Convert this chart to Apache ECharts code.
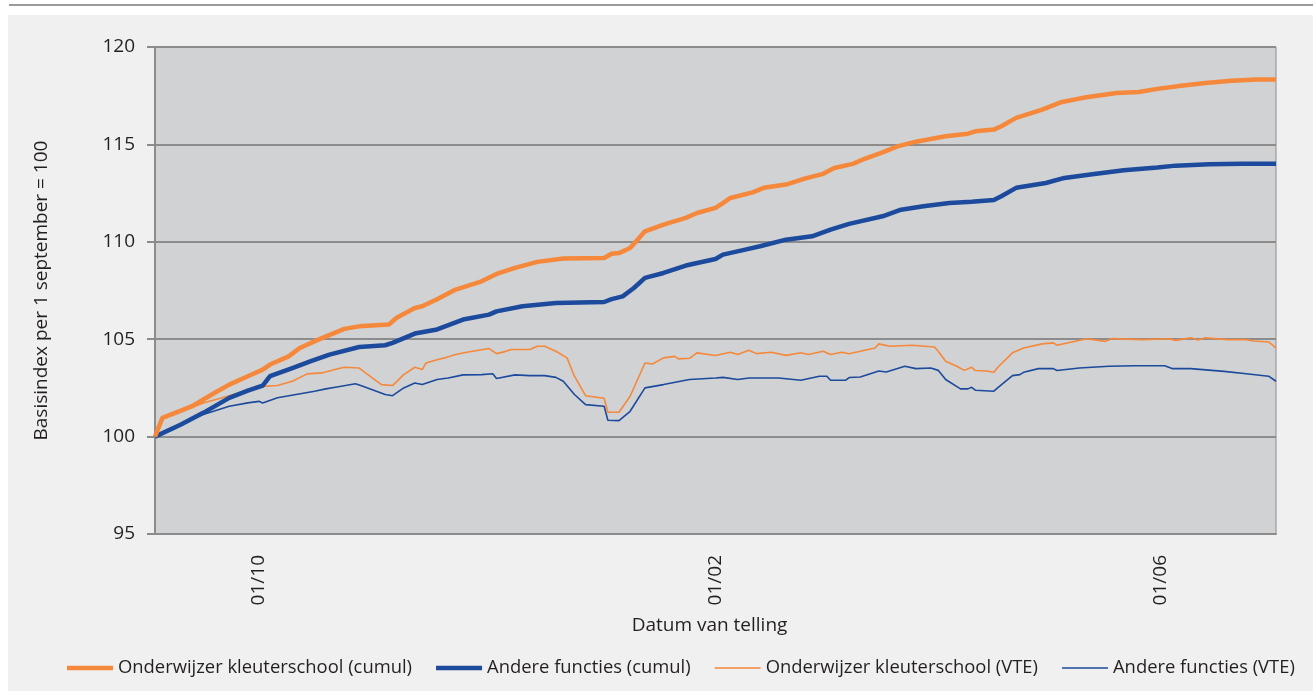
<!DOCTYPE html>
<html>
<head>
<meta charset="utf-8">
<script src="https://cdn.jsdelivr.net/npm/echarts@6/dist/echarts.min.js"></script>
<style>
  html, body { margin: 0; padding: 0; background: #ffffff; }
  #chart { width: 1313px; height: 691px; }
</style>
</head>
<body>
<div id="chart"></div>
<script>
// x = dag sinds 1 september (0 = 01/09)
var tickDays = [30, 153, 273];
var tickLabels = ['01/10', '01/02', '01/06'];

var seriesNames = [
  'Onderwijzer kleuterschool (cumul)',
  'Andere functies (cumul)',
  'Onderwijzer kleuterschool (VTE)',
  'Andere functies (VTE)'
];

var kleuterCumul = [
  [2,100],[4,100.96],[9,101.33],[12,101.56],[18,102.24],[22,102.67],[27,103.10],[31,103.44],
  [33,103.70],[38,104.12],[41,104.55],[46,104.98],[53,105.53],[57,105.66],[65,105.75],[67,106.09],
  [72,106.60],[74,106.69],[78,107.05],[83,107.55],[90,107.97],[94,108.35],[99,108.66],[105,108.97],
  [112,109.14],[123,109.17],[125,109.39],[127,109.42],[130,109.68],[132,110.11],[134,110.54],[139,110.88],
  [145,111.23],[148,111.48],[153,111.74],[155,111.99],[157,112.25],[163,112.54],[166,112.77],[172,112.94],
  [177,113.24],[182,113.49],[185,113.79],[190,114.00],[193,114.25],[198,114.59],[202,114.90],[207,115.14],
  [215,115.42],[221,115.55],[223,115.67],[228,115.76],[230,115.93],[234,116.36],[241,116.79],[246,117.16],
  [252,117.39],[261,117.64],[267,117.69],[272,117.85],[279,118.02],[285,118.15],[292,118.27],[299,118.33],
  [304,118.33]
];

var andereCumul = [
  [2,100],[9,100.62],[15,101.22],[22,101.99],[27,102.36],[31,102.62],[33,103.10],[39,103.52],
  [44,103.87],[49,104.21],[57,104.60],[64,104.69],[66,104.81],[72,105.29],[78,105.50],[85,106.01],
  [92,106.26],[94,106.43],[101,106.69],[110,106.86],[123,106.91],[125,107.06],[128,107.20],[131,107.63],
  [134,108.15],[139,108.40],[145,108.78],[153,109.12],[155,109.34],[161,109.60],[165,109.77],[172,110.11],
  [179,110.28],[184,110.63],[189,110.92],[198,111.31],[203,111.65],[209,111.82],[216,111.99],[222,112.06],
  [228,112.15],[230,112.34],[234,112.77],[242,113.02],[247,113.28],[254,113.45],[263,113.67],[272,113.82],
  [277,113.91],[286,113.98],[295,114.01],[304,114.01]
];

var kleuterVte = [
  [2,100],[4,100.96],[9,101.33],[12,101.50],[15,101.73],[22,102.10],[27,102.36],[31,102.58],
  [35,102.62],[39,102.84],[43,103.22],[47,103.27],[51,103.47],[53,103.56],[57,103.52],[59,103.23],
  [63,102.67],[66,102.62],[69,103.18],[72,103.56],[74,103.44],[75,103.78],[78,103.95],[80,104.04],
  [83,104.21],[86,104.33],[92,104.52],[94,104.26],[96,104.35],[98,104.47],[103,104.47],[105,104.64],
  [107,104.64],[110,104.38],[113,104.04],[115,103.10],[118,102.10],[123,101.97],[124,101.25],[127,101.25],
  [130,102.07],[134,103.78],[136,103.73],[139,104.04],[142,104.12],[143,103.99],[146,104.02],[148,104.30],
  [153,104.16],[157,104.33],[159,104.21],[162,104.43],[164,104.26],[168,104.33],[172,104.17],[176,104.30],
  [178,104.21],[182,104.38],[184,104.21],[187,104.33],[189,104.25],[192,104.38],[196,104.55],[197,104.76],
  [200,104.64],[206,104.69],[212,104.60],[213,104.38],[215,103.87],[218,103.61],[220,103.40],[222,103.56],
  [223,103.39],[226,103.37],[228,103.30],[229,103.55],[233,104.30],[236,104.55],[241,104.76],[244,104.81],
  [245,104.69],[249,104.86],[253,105.02],[258,104.89],[260,105.03],[268,104.98],[275,105.02],[277,104.94],
  [281,105.07],[283,104.96],[285,105.07],[291,104.98],[296,104.98],[298,104.91],[302,104.86],[304,104.55]
];

var andereVte = [
  [2,100],[9,100.62],[12,100.90],[15,101.13],[22,101.56],[27,101.73],[30,101.81],[31,101.73],
  [35,101.99],[40,102.16],[45,102.33],[48,102.45],[51,102.55],[56,102.71],[58,102.58],[64,102.16],
  [66,102.10],[69,102.50],[72,102.75],[74,102.67],[78,102.93],[81,103.01],[85,103.17],[90,103.18],
  [93,103.23],[94,102.98],[99,103.17],[103,103.13],[107,103.13],[110,103.04],[112,102.84],[115,102.16],
  [118,101.64],[123,101.56],[124,100.84],[127,100.82],[130,101.30],[134,102.50],[139,102.67],[146,102.93],
  [153,103.01],[155,103.04],[159,102.93],[162,103.01],[170,103.01],[176,102.89],[181,103.10],[183,103.10],
  [184,102.89],[188,102.89],[189,103.03],[192,103.06],[197,103.37],[199,103.32],[204,103.61],[207,103.49],
  [211,103.52],[213,103.40],[215,102.93],[219,102.45],[221,102.45],[222,102.53],[223,102.38],[228,102.33],
  [229,102.50],[233,103.13],[235,103.18],[236,103.30],[240,103.49],[244,103.49],[245,103.39],[251,103.52],
  [259,103.61],[266,103.64],[274,103.64],[276,103.49],[281,103.49],[290,103.35],[296,103.23],[302,103.10],
  [304,102.84]
];

var orange = '#f5883a';
var blue = '#1c4a9c';
var fontName = 'Open Sans';

// legend icons: a bar inside a 46x12 box (the M points fix the box)
var thickIcon = 'path://M0,0M46,12M0,3.8L46,3.8L46,8.2L0,8.2Z';
var thinIcon = 'path://M0,0M46,12M0,5.3L46,5.3L46,6.7L0,6.7Z';

var chart = echarts.init(document.getElementById('chart'));

var option = {
  backgroundColor: '#ffffff',
  animation: false,
  textStyle: { fontFamily: fontName, color: '#231f20' },
  graphic: [
    { type: 'line', silent: true, z: -10,
      shape: { x1: 9, y1: 5, x2: 1313, y2: 5 },
      style: { stroke: '#9a9a9a', lineWidth: 2 } },
    { type: 'rect', silent: true, z: -10,
      shape: { x: 8, y: 15, width: 1305, height: 676 },
      style: { fill: '#f0f0f0' } }
  ],
  grid: {
    left: 155, top: 47, width: 1121, height: 487,
    show: true, backgroundColor: '#d1d2d4',
    borderColor: '#8c8c8c', borderWidth: 1
  },
  legend: {
    top: 654, left: 62,
    itemWidth: 46, itemHeight: 12, itemGap: 24,
    itemStyle: { borderWidth: 0 },
    textStyle: { fontSize: 18.4, color: '#231f20', fontFamily: fontName },
    data: [
      { name: seriesNames[0], icon: thickIcon },
      { name: seriesNames[1], icon: thickIcon },
      { name: seriesNames[2], icon: thinIcon },
      { name: seriesNames[3], icon: thinIcon }
    ]
  },
  xAxis: {
    type: 'value', min: 2, max: 304,
    name: 'Datum van telling', nameLocation: 'middle', nameGap: 82,
    nameTextStyle: { fontSize: 19, color: '#231f20', padding: [0, 12, 0, 0] },
    axisLine: { show: true, lineStyle: { color: '#8c8c8c', width: 2 } },
    axisTick: { show: false },
    splitLine: { show: false },
    axisLabel: {
      customValues: tickDays,
      rotate: 90, margin: 21, fontSize: 19, color: '#231f20',
      formatter: function (v) {
        var i = tickDays.indexOf(Math.round(v));
        return i >= 0 ? tickLabels[i] : '';
      }
    }
  },
  yAxis: {
    type: 'value', min: 95, max: 120, interval: 5,
    name: 'Basisindex per 1 september = 100', nameLocation: 'middle', nameGap: 104,
    nameTextStyle: { fontSize: 19, color: '#231f20' },
    axisLine: { show: true, lineStyle: { color: '#8c8c8c', width: 2 } },
    axisTick: { show: true, length: 8, lineStyle: { color: '#8c8c8c', width: 2 } },
    splitLine: { show: true, lineStyle: { color: '#8c8c8c', width: 2 } },
    axisLabel: { fontSize: 19, margin: 20, color: '#231f20' }
  },
  series: [
    { name: seriesNames[0], type: 'line', data: kleuterCumul, symbol: 'none',
      lineStyle: { color: orange, width: 4.5 }, itemStyle: { color: orange }, z: 4 },
    { name: seriesNames[1], type: 'line', data: andereCumul, symbol: 'none',
      lineStyle: { color: blue, width: 4.5 }, itemStyle: { color: blue }, z: 3 },
    { name: seriesNames[2], type: 'line', data: kleuterVte, symbol: 'none',
      lineStyle: { color: orange, width: 1.6 }, itemStyle: { color: orange }, z: 2 },
    { name: seriesNames[3], type: 'line', data: andereVte, symbol: 'none',
      lineStyle: { color: blue, width: 1.6 }, itemStyle: { color: blue }, z: 1 }
  ]
};

chart.setOption(option);
</script>
</body>
</html>
